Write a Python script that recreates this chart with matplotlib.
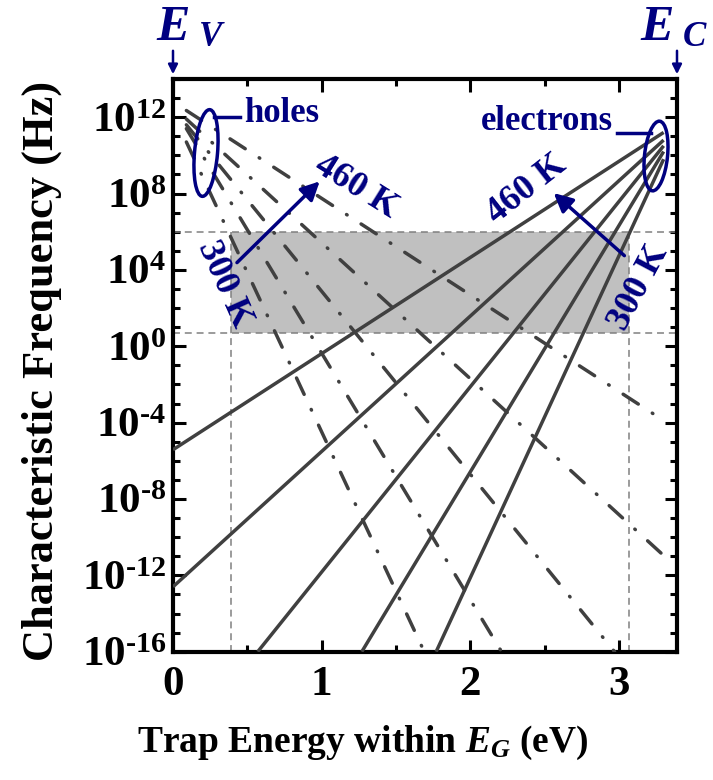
import numpy as np
import matplotlib
matplotlib.use("Agg")
import matplotlib.pyplot as plt
from matplotlib.patches import Ellipse
from matplotlib.transforms import IdentityTransform
from matplotlib.ticker import FixedLocator, FuncFormatter, NullFormatter

# trap energy (eV) and log10 of characteristic frequency (Hz), end points of each line
# holes: emission to valence band, 460 K ... 300 K
hole_E = [[0.09, 3.31], [0.09, 3.31], [0.09, 2.97], [0.09, 2.21], [0.09, 1.69]]
hole_logf = [[12.35, -3.94], [11.9, -11.03], [11.6, -16.0], [11.4, -16.0], [10.7, -16.0]]
# electrons: emission to conduction band, 460 K ... 300 K
elec_E = [[0.0, 3.30], [0.0, 3.30], [0.57, 3.30], [1.27, 3.30], [1.77, 3.30]]
elec_logf = [[-5.42, 11.2], [-12.6, 10.8], [-16.0, 10.5], [-16.0, 10.2], [-16.0, 9.8]]

# measurement window
win_E = [0.39, 3.07]
win_f = [5.0, 1e6]

E_C = 3.39
navy = '#000080'
grey = '#404040'

plt.rcParams['font.family'] = ['Liberation Serif', 'DejaVu Serif']
plt.rcParams['font.weight'] = 'bold'
plt.rcParams['mathtext.fontset'] = 'custom'
plt.rcParams['mathtext.rm'] = 'Liberation Serif:bold'
plt.rcParams['mathtext.bf'] = 'Liberation Serif:bold'
plt.rcParams['mathtext.it'] = 'Liberation Serif:italic:bold'
plt.rcParams['mathtext.default'] = 'bf'
plt.rcParams['lines.scale_dashes'] = False

W, H = 713, 780
fig = plt.figure(figsize=(W / 100, H / 100), dpi=100)
ax = fig.add_axes([173 / W, 1 - 651.7 / H, (677 - 173) / W, (651.7 - 79) / H])

def px(x, y):
    return (x, H - y)

def exp_label(v, p):
    n = int(round(np.log10(v)))
    s = str(abs(n)) if n >= 0 else '\u2010' + str(abs(n))
    return r'$10^{%s}$' % s

# window box and guide lines
ax.fill_between(win_E, win_f[0], win_f[1], color='#c0c0c0', lw=0, zorder=1)
for f in win_f:
    ax.axhline(f, color='#808080', lw=1.1, dashes=(5, 3.5), zorder=2)
for e in win_E:
    ax.plot([e, e], [1e-16, win_f[1]], color='#808080', lw=1.1, dashes=(5, 3.5), zorder=2)

for xs, ls in zip(hole_E, hole_logf):
    ax.plot(xs, 10.0 ** np.array(ls), color=grey, lw=2.5, dashes=(13, 12, 0.5, 12),
            dash_capstyle='round', zorder=3)
for xs, ls in zip(elec_E, elec_logf):
    ax.plot(xs, 10.0 ** np.array(ls), color=grey, lw=2.5, solid_capstyle='butt', zorder=3)

ax.set_yscale('log')
ax.set_xlim(0, E_C)
ax.set_ylim(1e-16, 1e14)

ax.xaxis.set_major_locator(FixedLocator([0, 1, 2, 3]))
ax.xaxis.set_minor_locator(FixedLocator([0.5, 1.5, 2.5]))
ax.yaxis.set_major_locator(FixedLocator(10.0 ** np.arange(-16, 13, 4)))
ax.yaxis.set_minor_locator(FixedLocator(10.0 ** np.arange(-16, 15)))
ax.yaxis.set_minor_formatter(NullFormatter())
ax.yaxis.set_major_formatter(FuncFormatter(exp_label))
ax.tick_params(which='both', direction='in', top=True, right=True, labelsize=31, width=2.2)
ax.tick_params(which='major', length=9)
ax.tick_params(axis='x', which='major', pad=10)
ax.tick_params(axis='y', which='major', pad=5)
ax.tick_params(which='minor', length=5)
for s in ax.spines.values():
    s.set_linewidth(3)

fig.text(42 / W, 1 - 371 / H, 'Characteristic Frequency (Hz)', rotation=90,
         ha='center', va='center', fontsize=32, fontweight='bold')
fig.text(363 / W, 1 - 743 / H, r'Trap Energy within $\mathit{E}_\mathit{G}$ (eV)',
         ha='center', va='center', fontsize=27, fontweight='bold')

# band edges
tr = IdentityTransform()
fig.text(156 / W, 1 - 40 / H, r'$\mathit{E}_{\ \mathit{V}}$', fontsize=36, color=navy)
fig.text(640 / W, 1 - 40 / H, r'$\mathit{E}_{\ \mathit{C}}$', fontsize=36, color=navy)
for x in (173, 677):
    ax.annotate('', xy=px(x, 77), xytext=px(x, 48), xycoords=tr, textcoords=tr,
                arrowprops=dict(arrowstyle='-|>', color=navy, lw=1.8, mutation_scale=14))

# holes / electrons groups
ax.add_patch(Ellipse(px(206, 153), 23, 87, angle=-5, transform=tr, fill=False,
                     ec=navy, lw=2.5, clip_on=False, zorder=5))
ax.add_patch(Ellipse(px(656, 156), 23, 70, angle=-6, transform=tr, fill=False,
                     ec=navy, lw=2.5, clip_on=False, zorder=5))
ax.plot([px(214, 117)[0], px(240, 117)[0]], [px(214, 117)[1], px(240, 117)[1]],
        color=navy, lw=2.5, transform=tr, clip_on=False, zorder=5)
ax.plot([px(617, 133)[0], px(651, 133)[0]], [px(617, 133)[1], px(651, 133)[1]],
        color=navy, lw=2.5, transform=tr, clip_on=False, zorder=5)
fig.text(244 / W, 1 - 114 / H, 'holes', fontsize=25, color=navy, va='center')
fig.text(613 / W, 1 - 121 / H, 'electrons', fontsize=25, color=navy, va='center', ha='right')

# temperature arrows
ax.annotate('', xy=(1.0, 10 ** 8.74), xytext=(0.417, 10 ** 4.28),
            arrowprops=dict(arrowstyle='-|>', color=navy, lw=2.5, mutation_scale=28), zorder=6)
ax.annotate('', xy=(2.547, 10 ** 8.12), xytext=(3.05, 10 ** 4.65),
            arrowprops=dict(arrowstyle='-|>', color=navy, lw=2.5, mutation_scale=28), zorder=6)
fig.text(356 / W, 1 - 187 / H, '460 K', fontsize=26, color=navy, rotation=-32,
         ha='center', va='center', rotation_mode='anchor')
fig.text(224 / W, 1 - 284 / H, '300 K', fontsize=26, color=navy, rotation=-66,
         ha='center', va='center', rotation_mode='anchor')
fig.text(527 / W, 1 - 189 / H, '460 K', fontsize=26, color=navy, rotation=38,
         ha='center', va='center', rotation_mode='anchor')
fig.text(639 / W, 1 - 288 / H, '300 K', fontsize=26, color=navy, rotation=62,
         ha='center', va='center', rotation_mode='anchor')

fig.savefig('out.png', dpi=100)
